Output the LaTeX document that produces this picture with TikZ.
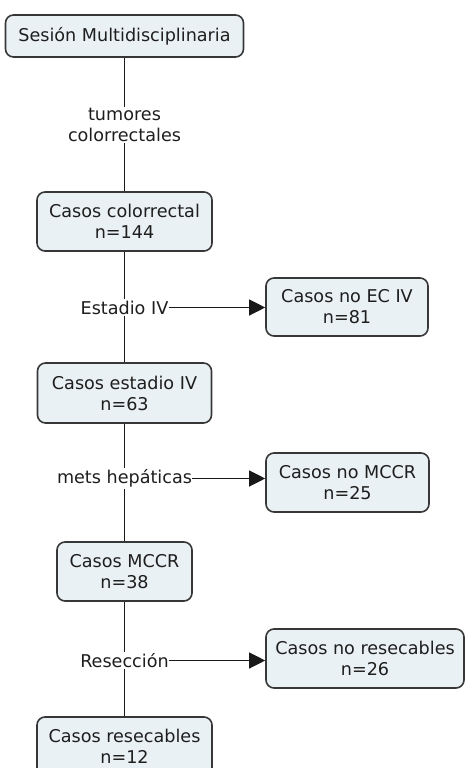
\documentclass[tikz,border=0pt]{standalone}
\usepackage{fontspec}
\setmainfont{DejaVu Sans}
\usetikzlibrary{arrows.meta}
\definecolor{boxfill}{RGB}{234,241,244}
\definecolor{boxline}{RGB}{55,55,55}
\definecolor{txt}{RGB}{30,30,30}
\definecolor{conn}{RGB}{25,25,25}
\begin{document}
\begin{tikzpicture}[x=1pt,y=-1pt,
  every node/.style={text=txt,font=\fontsize{17.6}{21}\selectfont},
  cbox/.style={draw=boxline,line width=1.6pt,fill=boxfill,rounded corners=8pt,
    align=center,inner sep=0pt,minimum height=59pt},
  lbl/.style={fill=white,align=center,inner xsep=0pt,inner ysep=1pt},
  conline/.style={draw=conn,line width=1.2pt},
  arr/.style={conline,-{Triangle[length=16pt,width=16pt]}}]
\useasboundingbox (0,0) rectangle (464,768);
\node[cbox,minimum width=238pt,minimum height=42pt] (top) at (124.5,36) {Sesión Multidisciplinaria};
\node[cbox,minimum width=175pt] (colo) at (124.5,221.5) {Casos colorrectal\\n=144};
\node[cbox,minimum width=162pt,minimum height=58pt] (noec) at (347,307) {Casos no EC IV\\n=81};
\node[cbox,minimum width=174pt,minimum height=60pt] (est) at (124.5,393) {Casos estadio IV\\n=63};
\node[cbox,minimum width=163pt] (nomccr) at (347.5,482.5) {Casos no MCCR\\n=25};
\node[cbox,minimum width=135pt] (mccr) at (124.5,571.5) {Casos MCCR\\n=38};
\node[cbox,minimum width=198pt] (nores) at (365,658.5) {Casos no resecables\\n=26};
\node[cbox,minimum width=175pt] (res) at (124.5,746.5) {Casos resecables\\n=12};
% labels
\node[lbl] (l1) at (124.5,125) {tumores\\colorrectales};
\node[lbl] (l2) at (124.5,307.5) {Estadio IV};
\node[lbl] (l3) at (124.5,478.5) {mets hepáticas};
\node[lbl] (l4) at (124.5,660.5) {Resección};
% connectors
\draw[conline] (top.south) -- (l1.north);
\draw[conline] (l1.south) -- (colo.north);
\draw[conline] (colo.south) -- (l2.north);
\draw[conline] (l2.south) -- (est.north);
\draw[arr] (l2.east) -- (l2.east -| noec.west);
\draw[conline] (est.south) -- (l3.north);
\draw[conline] (l3.south) -- (mccr.north);
\draw[arr] (l3.east) -- (l3.east -| nomccr.west);
\draw[conline] (mccr.south) -- (l4.north);
\draw[conline] (l4.south) -- (res.north);
\draw[arr] (l4.east) -- (l4.east -| nores.west);
\end{tikzpicture}
\end{document}
